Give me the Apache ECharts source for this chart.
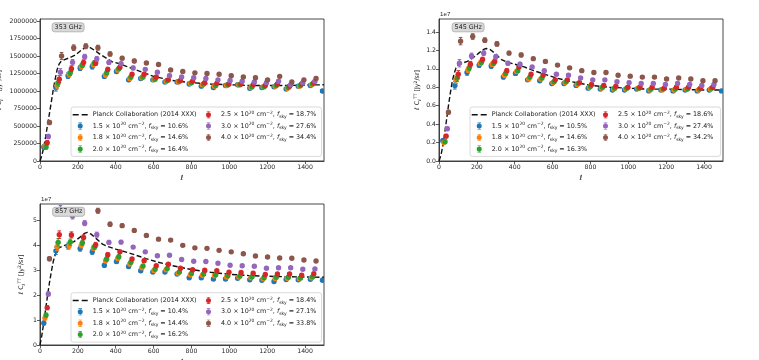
<!DOCTYPE html>
<html><head><meta charset="utf-8">
<script src="https://cdn.jsdelivr.net/npm/echarts@6/dist/echarts.min.js"></script>
<style>html,body{margin:0;padding:0;background:#fff}#c{width:759px;height:360px}</style>
</head><body><div id="c"></div>
<script>
// ---------- data ----------
const ellBins = [35,99,163,227,291,355,419,483,547,611,675,739,803,867,931,995,1059,1123,1187,1251,1315,1379,1443,1507];
const densities = ['1.5','1.8','2.0','2.5','3.0','4.0'];
const fsky353 = [10.6,14.6,16.4,18.7,27.6,34.4];
const fsky545 = [10.5,14.6,16.3,18.6,27.4,34.2];
const fsky857 = [10.4,14.4,16.2,18.4,27.1,33.8];
const freqLabels = ['353 GHz','545 GHz','857 GHz'];

// 353 GHz  (Jy^2/sr, in units of 1e6)
const d353_15 = [0.20,1.05,1.22,1.33,1.35,1.21,1.28,1.16,1.18,1.16,1.13,1.13,1.10,1.07,1.05,1.08,1.09,1.04,1.05,1.06,1.03,1.07,1.08,1.00];
const d353_18 = [0.21,1.08,1.24,1.35,1.38,1.23,1.30,1.18,1.19,1.16,1.14,1.13,1.11,1.09,1.07,1.08,1.09,1.05,1.06,1.07,1.04,1.07,1.09,null];
const d353_20 = [0.20,1.12,1.26,1.37,1.40,1.26,1.32,1.20,1.20,1.17,1.15,1.14,1.12,1.10,1.08,1.09,1.09,1.06,1.06,1.08,1.05,1.08,1.10,null];
const d353_25 = [0.26,1.17,1.32,1.41,1.40,1.31,1.34,1.24,1.24,1.20,1.16,1.15,1.14,1.12,1.11,1.10,1.10,1.09,1.08,1.10,1.07,1.10,1.12,null];
const d353_30 = [0.35,1.27,1.41,1.49,1.46,1.41,1.39,1.33,1.31,1.27,1.22,1.20,1.19,1.18,1.16,1.15,1.14,1.13,1.12,1.14,1.09,1.12,1.14,null];
const d353_40 = [0.55,1.50,1.62,1.64,1.62,1.53,1.47,1.43,1.40,1.38,1.30,1.28,1.26,1.25,1.24,1.22,1.20,1.19,1.16,1.21,1.13,1.16,1.18,null];
const err353  = [0.03,0.05,0.04,0.035,0.035,0.03,0.025,0.025,0.02,0.02,0.02,0.02,0.02,0.02,0.02,0.02,0.02,0.02,0.02,0.02,0.02,0.02,0.02,0.02];
const planckEll353 = [0,10,20,30,40,50,60,70,80,90,100,110,130,160,190,220,245,265,290,320,350,380,420,460,500,550,600,650,700,800,900,1000,1100,1200,1300,1400,1500];
const planck353 = [0,0.08,0.2,0.35,0.52,0.68,0.85,1.02,1.17,1.3,1.38,1.42,1.45,1.48,1.52,1.59,1.63,1.62,1.58,1.52,1.47,1.42,1.39,1.35,1.31,1.26,1.21,1.18,1.15,1.12,1.10,1.09,1.08,1.08,1.08,1.085,1.09];

// 545 GHz (units of 1e7)
const d545_15 = [0.22,0.82,0.96,1.04,1.03,0.91,0.95,0.88,0.87,0.84,0.84,0.82,0.79,0.78,0.77,0.77,0.78,0.76,0.77,0.76,0.77,0.76,0.77,0.76];
const d545_18 = [0.20,0.88,0.99,1.06,1.05,0.93,0.97,0.89,0.89,0.85,0.85,0.83,0.80,0.79,0.78,0.78,0.79,0.77,0.77,0.77,0.78,0.77,0.78,null];
const d545_20 = [0.21,0.90,1.01,1.07,1.06,0.95,0.98,0.91,0.90,0.86,0.86,0.84,0.81,0.80,0.79,0.79,0.79,0.78,0.78,0.78,0.78,0.78,0.79,null];
const d545_25 = [0.27,0.94,1.05,1.10,1.08,0.98,1.02,0.94,0.93,0.88,0.88,0.85,0.83,0.82,0.81,0.80,0.80,0.80,0.79,0.80,0.80,0.79,0.80,null];
const d545_30 = [0.35,1.06,1.14,1.17,1.13,1.06,1.05,1.02,0.98,0.94,0.93,0.90,0.88,0.88,0.86,0.85,0.84,0.84,0.83,0.84,0.83,0.82,0.83,null];
const d545_40 = [0.53,1.30,1.35,1.31,1.27,1.17,1.15,1.11,1.08,1.04,1.01,0.98,0.96,0.96,0.93,0.92,0.91,0.91,0.89,0.90,0.89,0.87,0.87,null];
const err545  = [0.02,0.04,0.03,0.025,0.025,0.02,0.02,0.015,0.015,0.015,0.015,0.015,0.015,0.015,0.015,0.015,0.015,0.015,0.015,0.015,0.015,0.015,0.015,0.015];
const planckEll545 = [0,10,20,30,40,50,60,70,80,90,100,120,150,180,210,235,250,270,300,330,360,400,450,500,560,620,700,800,900,1000,1100,1200,1300,1400,1500];
const planck545 = [0,0.06,0.16,0.3,0.45,0.6,0.74,0.86,0.95,1.01,1.04,1.06,1.08,1.12,1.17,1.21,1.22,1.21,1.16,1.1,1.07,1.05,1.02,0.98,0.94,0.9,0.86,0.82,0.80,0.79,0.78,0.78,0.775,0.77,0.77];

// 857 GHz (units of 1e7)
const d857_15 = [0.88,3.78,3.97,3.87,3.74,3.20,3.35,3.15,2.98,2.93,2.93,2.85,2.70,2.70,2.65,2.65,2.68,2.62,2.60,2.55,2.63,2.62,2.64,2.60];
const d857_18 = [1.08,3.95,3.98,4.00,3.90,3.38,3.47,3.25,3.10,2.99,3.02,2.88,2.82,2.80,2.78,2.73,2.73,2.70,2.66,2.67,2.68,2.66,2.70,null];
const d857_20 = [1.20,4.12,4.13,4.10,3.93,3.45,3.54,3.32,3.17,3.04,3.07,2.93,2.87,2.85,2.82,2.78,2.77,2.74,2.70,2.72,2.72,2.69,2.74,null];
const d857_25 = [1.50,4.43,4.42,4.32,4.02,3.62,3.74,3.45,3.38,3.18,3.24,3.08,3.02,3.00,2.98,2.92,2.91,2.88,2.83,2.85,2.85,2.80,2.86,null];
const d857_30 = [2.05,5.45,5.18,4.89,4.43,4.12,4.13,3.93,3.74,3.58,3.60,3.43,3.36,3.35,3.28,3.20,3.18,3.16,3.08,3.10,3.10,3.04,3.05,null];
const d857_40 = [3.46,null,null,null,5.39,4.85,4.79,4.60,4.40,4.25,4.21,4.00,3.90,3.88,3.80,3.74,3.66,3.57,3.53,3.49,3.48,3.41,3.37,null];
const err857  = [0.08,0.15,0.12,0.1,0.1,0.08,0.07,0.06,0.06,0.05,0.05,0.05,0.05,0.05,0.05,0.05,0.05,0.05,0.05,0.05,0.05,0.05,0.05,0.05];
const planckEll857 = [0,10,20,30,40,50,60,70,80,90,100,120,150,180,210,235,250,270,300,330,360,400,450,500,560,620,700,800,900,1000,1100,1200,1300,1400,1500];
const planck857 = [0,0.4,0.9,1.45,2.0,2.5,2.95,3.35,3.62,3.8,3.9,3.97,4.05,4.15,4.32,4.48,4.52,4.45,4.25,4.05,3.95,3.85,3.74,3.62,3.47,3.33,3.18,3.03,2.92,2.84,2.79,2.76,2.74,2.73,2.72];

// ---------- assembly ----------
const FONT = 'DejaVu Sans';
const colors = ['#1f77b4','#ff7f0e','#2ca02c','#d62728','#9467bd','#8c564b'];
const offsets = [-15,-9,-3,3,9,15];
const panels = [
  {series:[d353_15,d353_18,d353_20,d353_25,d353_30,d353_40], err:err353, scale:1e6, pEll:planckEll353, pVal:planck353, fsky:fsky353},
  {series:[d545_15,d545_18,d545_20,d545_25,d545_30,d545_40], err:err545, scale:1, pEll:planckEll545, pVal:planck545, fsky:fsky545},
  {series:[d857_15,d857_18,d857_20,d857_25,d857_30,d857_40], err:err857, scale:1, pEll:planckEll857, pVal:planck857, fsky:fsky857}
];
// layout
const layout = [
  {left:40, top:19, width:284, height:142, ymax:2030000, interval:250000, dec:0, nameGap:36, xGap:14, leg:[71,107,206], title:[52,23], off:null},
  {left:439, top:19, width:284, height:142, ymax:1.54, interval:0.2, dec:1, nameGap:14, xGap:14, leg:[470,107,603], title:[452,23], off:[440,11.5]},
  {left:40, top:204, width:284, height:141, ymax:5.66, interval:1, dec:0, nameGap:14, xGap:14, leg:[71,292.7,206], title:[52.5,207.5], off:[41,196.5]}
];

const errIcon = 'path://M2.2,0L2.8,0L2.8,7L2.2,7Z M0.7,0L4.3,0L4.3,0.6L0.7,0.6Z M0.7,6.4L4.3,6.4L4.3,7L0.7,7Z M0,3.5A2.5,2.5 0 1 1 5,3.5A2.5,2.5 0 1 1 0,3.5Z';
const dashIcon = 'path://M0,0L6,0L6,1.5L0,1.5Z M9,0L15,0L15,1.5L9,1.5Z';

function renderErr(params, api){
  const x = api.value(0), y = api.value(1), e = api.value(2);
  const p = api.coord([x, y]);
  const lo = api.coord([x, y - e]);
  const hi = api.coord([x, y + e]);
  const color = api.visual('color');
  const cap = 1.8;
  return {type:'group', children:[
    {type:'line', shape:{x1:p[0],y1:lo[1],x2:p[0],y2:hi[1]}, style:{stroke:color,lineWidth:1}},
    {type:'line', shape:{x1:p[0]-cap,y1:lo[1],x2:p[0]+cap,y2:lo[1]}, style:{stroke:color,lineWidth:1}},
    {type:'line', shape:{x1:p[0]-cap,y1:hi[1],x2:p[0]+cap,y2:hi[1]}, style:{stroke:color,lineWidth:1}},
    {type:'circle', shape:{cx:p[0],cy:p[1],r:2.7}, style:{fill:color}}
  ]};
}

const rich = {
  sup:{fontSize:4.5, lineHeight:5, verticalAlign:'top', fontFamily:FONT, color:'#222'},
  sub:{fontSize:4.5, lineHeight:5, verticalAlign:'bottom', fontFamily:FONT, color:'#222'},
  it:{fontStyle:'italic', fontSize:6.4, fontFamily:FONT, color:'#222'}
};
function legendFmt(name){
  const p = +name[1];
  if (name.endsWith('planck')) return 'Planck Collaboration (2014 XXX)';
  const i = +name[3];
  return densities[i] + ' × 10{sup|20} cm{sup|−2}, {it|f}{sub|sky} = ' + panels[p].fsky[i].toFixed(1) + '%';
}

const grids=[], xAxes=[], yAxes=[], series=[], legends=[], titles=[], graphics=[];
panels.forEach((P, p) => {
  const L = layout[p];
  grids.push({left:L.left, top:L.top, width:L.width, height:L.height, show:true, borderColor:'#333', borderWidth:0.9,
    outerBoundsMode:'none', containLabel:false});
  xAxes.push({gridIndex:p, type:'value', min:0, max:1500, interval:200,
    axisLine:{show:true, onZero:false, lineStyle:{color:'#333', width:0.9}},
    axisTick:{show:true, length:3, lineStyle:{color:'#333', width:0.8}},
    axisLabel:{fontSize:6.2, color:'#262626', margin:3, showMaxLabel:false, fontFamily:FONT, formatter: v => String(v)},
    splitLine:{show:false},
    name:'ℓ', nameLocation:'middle', nameGap:L.xGap,
    nameTextStyle:{fontSize:7, fontStyle:'italic', color:'#262626', fontFamily:FONT}});
  yAxes.push({gridIndex:p, type:'value', min:0, max:L.ymax, interval:L.interval,
    axisLine:{show:true, onZero:false, lineStyle:{color:'#333', width:0.9}},
    axisTick:{show:true, length:3, lineStyle:{color:'#333', width:0.8}},
    axisLabel:{fontSize:6.2, color:'#262626', margin:3, showMaxLabel:false, fontFamily:FONT,
      formatter: v => v.toFixed(L.dec)},
    splitLine:{show:false},
    name:'{it|ℓ} C{sub|ℓ}{sup|TT} [Jy{sup|2}/sr]', nameLocation:'middle', nameGap:L.nameGap, nameRotate:90,
    nameTextStyle:{fontSize:6.4, color:'#262626', fontFamily:FONT, lineHeight:9, rich:rich}});
  // Planck line
  series.push({type:'line', name:'p'+p+'planck', xAxisIndex:p, yAxisIndex:p,
    data: P.pEll.map((e,k)=>[e, P.pVal[k]*P.scale]), showSymbol:false, symbol:'none',
    lineStyle:{color:'#111', width:1.4, type:[5,2.5]}, itemStyle:{color:'#111'}, z:2, animation:false, silent:true});
  P.series.forEach((arr, i) => {
    const rows = [];
    arr.forEach((v,k) => { if (v !== null) rows.push([ellBins[k]+offsets[i], v*P.scale, P.err[k]*P.scale]); });
    series.push({type:'custom', name:'p'+p+'s'+i, xAxisIndex:p, yAxisIndex:p, data:rows,
      encode:{x:0, y:1}, renderItem:renderErr, itemStyle:{color:colors[i]}, clip:true, z:3, animation:false, silent:true});
  });
  const legBase = {orient:'vertical', itemWidth:15, itemHeight:7, itemGap:2.4, selectedMode:false,
    formatter:legendFmt, itemStyle:{borderWidth:0},
    textStyle:{fontSize:6.4, lineHeight:9, color:'#222', fontFamily:FONT, rich:rich}};
  legends.push(Object.assign({}, legBase, {left:L.leg[0], top:L.leg[1], padding:[3.2,125,3,1.7],
    backgroundColor:'rgba(255,255,255,0.85)', borderColor:'#cfcfcf', borderWidth:0.8, borderRadius:2.5,
    data:[{name:'p'+p+'planck', icon:dashIcon}].concat([0,1,2].map(i=>({name:'p'+p+'s'+i, icon:errIcon})))}));
  legends.push(Object.assign({}, legBase, {left:L.leg[2], top:L.leg[1]+3.2, padding:0, z:5,
    data:[3,4,5].map(i=>({name:'p'+p+'s'+i, icon:errIcon}))}));
  titles.push({text:freqLabels[p], left:L.title[0], top:L.title[1], padding:[1.3,2.6],
    backgroundColor:'#d9d9d9', borderColor:'#ababab', borderWidth:0.8, borderRadius:2.5,
    textStyle:{fontSize:6.4, fontWeight:'normal', color:'#222', fontFamily:FONT}});
  if (L.off) graphics.push({type:'text', left:L.off[0], top:L.off[1], style:{text:'1e7', fontSize:6.2, fill:'#262626', font:'6.2px "DejaVu Sans"'}});
});

const chart = echarts.init(document.getElementById('c'), null, {renderer:'canvas'});
chart.setOption({animation:false, backgroundColor:'#fff', title:titles, grid:grids, xAxis:xAxes, yAxis:yAxes,
  legend:legends, series:series, graphic:graphics});
</script></body></html>
